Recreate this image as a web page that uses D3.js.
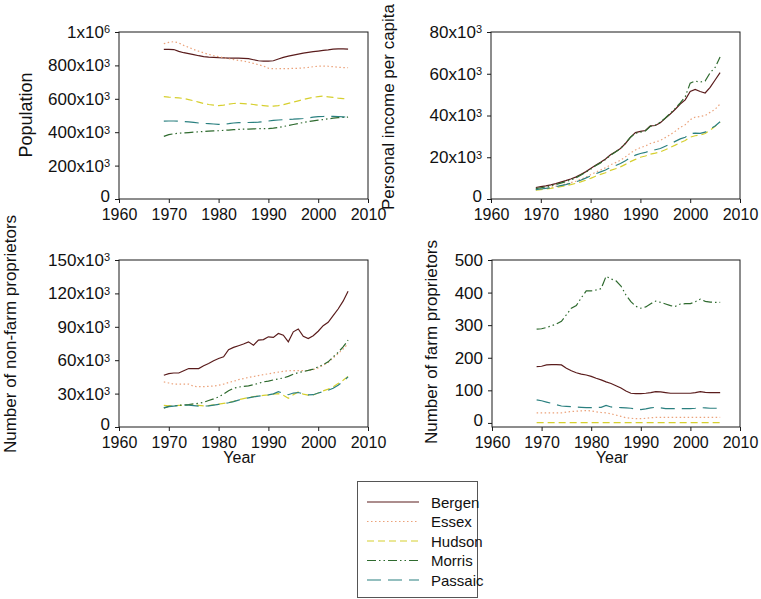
<!DOCTYPE html>
<html>
<head>
<meta charset="utf-8">
<script src="https://cdn.jsdelivr.net/npm/d3@7/dist/d3.min.js"></script>
<style>
  html, body { margin: 0; padding: 0; background: #fff; }
  svg { display: block; font-family: "Liberation Sans", Arial, sans-serif; }
</style>
</head>
<body>
<svg id="chart" width="761" height="599"></svg>
<script>
// ---- Data: New Jersey counties, 1969–2006 ----
const years = d3.range(1969, 2007);
const counties = ["Bergen", "Essex", "Hudson", "Morris", "Passaic"];

// Population
const popBergen  = [896000,896000,895000,884000,876000,870000,864000,858000,853000,850000,848000,846000,845000,844000,844000,843000,842000,840000,834000,828000,826000,826000,828000,838000,848000,856000,862000,868000,874000,878000,882000,886000,890000,893000,897000,899000,899000,898000];
const popEssex   = [930000,938000,942000,935000,920000,908000,895000,885000,875000,866000,858000,852000,846000,840000,835000,830000,826000,820000,812000,804000,796000,783000,780000,780000,781000,781000,782000,783000,785000,788000,792000,795000,796000,795000,792000,789000,787000,786000];
const popHudson  = [613000,610000,608000,605000,602000,595000,588000,580000,572000,566000,562000,559000,562000,568000,572000,573000,571000,569000,566000,562000,559000,556000,556000,559000,565000,573000,580000,588000,596000,603000,609000,613000,616000,612000,608000,604000,601000,598000];
const popMorris  = [375000,385000,391000,394000,396000,398000,400000,402000,404000,406000,408000,409000,411000,413000,415000,417000,418000,419000,420000,421000,421000,422000,424000,428000,434000,440000,446000,452000,458000,463000,468000,472000,476000,480000,484000,487000,489000,490000];
const popPassaic = [466000,467000,467000,466000,464000,462000,459000,455000,453000,451000,449000,447000,448000,451000,455000,457000,458000,458000,459000,460000,463000,467000,471000,473000,475000,477000,478000,480000,482000,486000,490000,493000,494000,495000,495000,494000,492000,490000];

// Personal income per capita (dollars)
const incBergen  = [5500,5900,6300,6800,7400,8100,8800,9600,10500,11700,13000,14600,16200,17600,19200,21200,22600,24200,26600,29500,31800,32400,32800,35000,35200,36500,38600,40700,43000,45500,47500,51500,52500,51500,50800,53500,57000,60500];
const incEssex   = [4600,4900,5200,5600,6100,6600,7200,7800,8500,9400,10400,11600,12800,13900,15000,16400,17400,18600,20200,22000,23500,24600,25400,26600,27300,28000,29400,30800,32500,34300,35600,38000,39200,39500,40000,41500,43000,45500];
const incHudson  = [4200,4500,4800,5100,5500,5900,6400,6900,7500,8200,9000,9900,10900,11800,12600,13700,14500,15400,16600,17900,19000,20000,20600,21500,22000,22600,23600,24700,25800,27000,28000,29600,30300,30600,31400,33000,34800,36800];
const incMorris  = [5000,5400,5800,6300,6900,7600,8300,9100,10100,11400,12800,14300,15900,17300,18900,21000,22500,24200,26700,29600,31500,32000,32600,34800,35400,36800,38800,41000,43400,46000,49000,55500,56500,56000,56500,60500,63000,68000];
const incPassaic = [4500,4800,5100,5400,5900,6400,6900,7500,8200,9000,10000,11000,12100,13000,13900,15200,16000,17000,18300,19800,21000,21800,22300,23200,23600,24200,25300,26400,27600,28800,29600,31200,31600,31400,32000,33500,35000,37000];

// Number of non-farm proprietors
const nfBergen  = [46500,48000,48500,48500,50500,52500,52500,52500,55000,57000,59500,61500,63000,69500,71500,73000,74500,76500,73500,78000,78500,81000,80500,84000,82500,76500,85500,88000,81500,79500,82000,86000,91000,94000,100000,106000,113000,122000];
const nfEssex   = [40500,39500,38500,38500,38500,38500,36500,36200,36200,36500,36800,37500,38500,40000,41000,42500,43500,44500,45300,46200,47000,47800,48600,49300,50000,50500,50600,50600,50600,50800,51500,53000,55500,58000,62000,66000,70000,75000];
const nfHudson  = [19500,19000,19000,19500,19500,19800,20000,19500,19000,19200,19800,20500,21200,22000,23000,24500,25500,26500,27200,28000,28400,28900,29500,30000,28500,25800,29000,31500,29500,28600,28800,30500,32500,34000,36000,39000,42000,45500];
const nfMorris  = [17000,18500,19000,19500,19800,20200,20800,21300,22200,23800,25300,27000,29500,32500,34800,35800,36500,37000,38000,39200,40500,41200,42300,43200,44000,45500,47500,48800,49800,50800,52000,54000,56000,58500,63000,67000,72000,78000];
const nfPassaic = [17500,18200,18800,19200,19500,19600,19200,18800,18800,19000,19600,20300,21000,21800,22800,24200,25200,26200,27000,27800,28200,28800,29800,31800,30200,29000,30500,31000,29800,28800,29000,30500,31800,33000,34800,37500,40800,45000];

// Number of farm proprietors
const fBergen  = [173,174,178,179,179,178,168,160,154,150,147,143,137,132,126,121,114,107,98,91,90,90,91,93,96,95,93,91,91,91,91,91,93,96,94,93,93,93];
const fEssex   = [31,31,31,31,31,31,33,35,36,37,38,37,34,32,31,28,24,20,16,14,13,13,14,16,17,17,17,17,17,17,17,17,17,17,17,17,17,17];
const fHudson  = [1,1,1,1,1,1,1,1,1,1,1,1,1,1,1,1,1,1,1,1,1,1,1,1,1,1,1,1,1,1,1,1,1,1,1,1,1,1];
const fMorris  = [288,289,293,298,304,312,332,352,360,384,405,405,408,412,450,442,436,420,393,372,358,352,356,366,374,370,365,360,358,365,366,366,372,380,373,371,370,370];
const fPassaic = [71,68,64,60,56,52,51,50,49,48,47,47,48,48,54,49,48,47,46,45,43,41,43,46,48,46,44,44,44,44,44,44,45,47,46,45,45,45];

// Tick values and their printed labels
const xTicks = [1960, 1970, 1980, 1990, 2000, 2010];
const popTicks = [0, 200000, 400000, 600000, 800000, 1000000];
const popTickLabels = ["0", "200x10^3", "400x10^3", "600x10^3", "800x10^3", "1x10^6"];
const incTicks = [0, 20000, 40000, 60000, 80000];
const incTickLabels = ["0", "20x10^3", "40x10^3", "60x10^3", "80x10^3"];
const nfTicks = [0, 30000, 60000, 90000, 120000, 150000];
const nfTickLabels = ["0", "30x10^3", "60x10^3", "90x10^3", "120x10^3", "150x10^3"];
const fTicks = [0, 100, 200, 300, 400, 500];
const fTickLabels = ["0", "100", "200", "300", "400", "500"];

// ---- Styling per county ----
const styles = {
  Bergen:  { color: "#5a1c1c", dash: null },
  Essex:   { color: "#eba27a", dash: "1.5,2.5" },
  Hudson:  { color: "#d6cf2e", dash: "7,4" },
  Morris:  { color: "#2e6a2e", dash: "9,3,1.5,3,1.5,3" },
  Passaic: { color: "#2b8080", dash: "14,7" }
};

const panels = [
  { box: [119, 32, 368, 199], yDomain: [0, 1000000], ticks: popTicks, labels: popTickLabels,
    series: [popBergen, popEssex, popHudson, popMorris, popPassaic],
    title: "Population", titleX: 26, titleY: 115, titleSize: 18 },
  { box: [491, 32, 740, 199], yDomain: [0, 80000], ticks: incTicks, labels: incTickLabels,
    series: [incBergen, incEssex, incHudson, incMorris, incPassaic],
    title: "Personal income per capita", titleX: 388, titleY: 107, titleSize: 17 },
  { box: [119, 260, 368, 427], yDomain: [0, 150000], ticks: nfTicks, labels: nfTickLabels,
    series: [nfBergen, nfEssex, nfHudson, nfMorris, nfPassaic],
    title: "Number of non-farm proprietors", titleX: 10, titleY: 334, titleSize: 17, xTitle: "Year" },
  { box: [492, 260, 740, 427], yDomain: [-12.5, 500], ticks: fTicks, labels: fTickLabels,
    series: [fBergen, fEssex, fHudson, fMorris, fPassaic],
    title: "Number of farm proprietors", titleX: 431, titleY: 342, titleSize: 17, xTitle: "Year" }
];

const svg = d3.select("#chart");

// Replace "a^b" labels with a base and a raised exponent
function superscriptLabels(sel, labels) {
  sel.selectAll(".tick text").each(function(d, i) {
    const t = d3.select(this);
    const parts = labels[i].split("^");
    t.text(null);
    t.append("tspan").text(parts[0]);
    if (parts.length > 1) {
      t.append("tspan").attr("dy", "-0.42em").attr("font-size", "11px").text(parts[1]);
    }
  });
}

panels.forEach(p => {
  const [x0, y0, x1, y1] = p.box;
  const x = d3.scaleLinear().domain([1960, 2010]).range([x0, x1]);
  const y = d3.scaleLinear().domain(p.yDomain).range([y1, y0]);
  const g = svg.append("g");

  // frame
  g.append("rect").attr("x", x0).attr("y", y0).attr("width", x1 - x0).attr("height", y1 - y0)
    .attr("fill", "none").attr("stroke", "#1a1a1a").attr("stroke-width", 1);

  const xa = g.append("g").attr("transform", `translate(0,${y1})`)
    .call(d3.axisBottom(x).tickValues(xTicks).tickFormat(d3.format("d")).tickSize(4).tickPadding(6));
  xa.select(".domain").remove();
  xa.selectAll("text").attr("font-size", "16px").attr("fill", "#111");
  xa.selectAll("line").attr("stroke", "#1a1a1a");

  const ya = g.append("g").attr("transform", `translate(${x0},0)`)
    .call(d3.axisLeft(y).tickValues(p.ticks).tickSize(4).tickPadding(5));
  ya.select(".domain").remove();
  ya.selectAll("text").attr("font-size", "17px").attr("fill", "#111");
  ya.selectAll("line").attr("stroke", "#1a1a1a");
  superscriptLabels(ya, p.labels);
  // lift the zero label a little so it clears the first year label
  ya.selectAll(".tick text").filter((d, i) => i === 0).attr("dy", "0.15em");

  // y title
  g.append("text")
    .attr("transform", `translate(${p.titleX},${p.titleY}) rotate(-90)`)
    .attr("text-anchor", "middle").attr("dominant-baseline", "central")
    .attr("font-size", p.titleSize + "px").attr("fill", "#111").text(p.title);

  if (p.xTitle) {
    g.append("text").attr("x", (x0 + x1) / 2 - 4).attr("y", 463)
      .attr("text-anchor", "middle").attr("font-size", "16px").attr("fill", "#111").text(p.xTitle);
  }

  const line = d3.line().x((d, i) => x(years[i])).y(d => y(d));
  p.series.forEach((vals, k) => {
    const s = styles[counties[k]];
    g.append("path").datum(vals).attr("d", line)
      .attr("fill", "none").attr("stroke", s.color).attr("stroke-width", 1.2)
      .attr("stroke-dasharray", s.dash);
  });
});

// ---- Legend ----
const lg = svg.append("g");
lg.append("rect").attr("x", 357.5).attr("y", 481.5).attr("width", 120).attr("height", 116)
  .attr("fill", "#fff").attr("stroke", "#555").attr("stroke-width", 1);
counties.forEach((c, i) => {
  const cy = 502 + i * 19.5;
  const s = styles[c];
  lg.append("line").attr("x1", 367).attr("x2", 419).attr("y1", cy).attr("y2", cy)
    .attr("stroke", s.color).attr("stroke-width", 1.2).attr("stroke-dasharray", s.dash);
  lg.append("text").attr("x", 431).attr("y", cy).attr("dominant-baseline", "central")
    .attr("font-size", "15px").attr("fill", "#111").text(c);
});
</script>
</body>
</html>
